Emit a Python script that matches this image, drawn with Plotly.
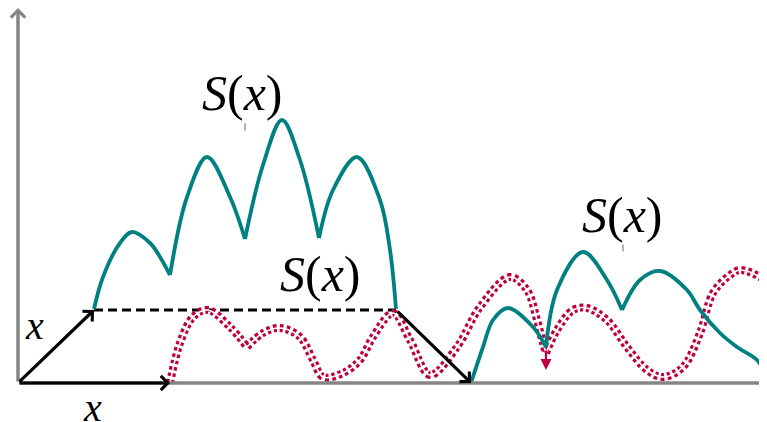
import plotly.graph_objects as go

# ---- data (units: 1 unit = 10 px, origin at the axes corner) ----
teal_left_x = [7.6, 8.5, 10.2, 11.4, 13.2, 14.2, 15.2, None,
               15.2, 16.9, 18.9, 21.2, 22.7, None,
               22.7, 24.5, 26.4, 28.2, 30.1, None,
               30.1, 31.5, 33.9, 36.2, 37.2, 37.8]
teal_left_y = [7.4, 10.6, 14.0, 15.1, 14.0, 12.6, 10.8, None,
               10.8, 18.6, 22.6, 18.6, 14.4, None,
               14.4, 21.8, 26.3, 22.3, 14.5, None,
               14.5, 19.3, 22.6, 18.3, 13.3, 7.4]

teal_right_x = [45.3, 46.5, 47.5, 49.0, 51.5, 52.8, None,
                52.8, 53.9, 56.5, 58.9, 60.4, None,
                60.4, 62.2, 64.2, 66.9, 68.2, 70.2, 71.9, 73.9, 74.9]
teal_right_y = [0.0, 3.6, 6.3, 7.5, 5.6, 3.6, None,
                3.6, 9.3, 13.1, 10.3, 7.3, None,
                7.3, 10.3, 11.2, 9.3, 7.3, 5.0, 3.6, 2.3, 0.6]

crimson_x = [15.2, 16.2, 17.5, 19.0, 21.2, 22.9, None,
             22.9, 24.5, 26.2, 28.2, 29.5, 30.5, 32.5, 34.2, 35.5, 37.5, 39.2, 41.2,
             43.9, 46.2, 49.2, 50.9, 51.9, 52.5, 52.8, None,
             52.8, 53.9, 55.5, 56.9, 58.9, 60.9, 62.9, 64.5, 66.5, 68.2, 69.5,
             71.2, 72.2, 74.2, 75.5]
crimson_y = [0.0, 4.0, 6.6, 7.3, 5.6, 3.6, None,
             3.6, 5.0, 5.5, 4.6, 2.3, 0.6, 1.0, 2.3, 4.6, 7.0, 4.3, 0.8,
             3.6, 7.6, 10.6, 9.3, 6.3, 4.0, 3.0, None,
             3.0, 5.3, 7.3, 7.5, 6.3, 3.6, 1.3, 0.6, 1.6, 5.0, 9.0,
             10.8, 11.3, 10.6, 9.5]

dashed_x = [7.6, 37.8]
dashed_y = [7.3, 7.3]

# vector arrows: tail -> head
arrow_tail_x = [0.0, 0.0, 37.8]
arrow_tail_y = [0.0, 0.0, 7.3]
arrow_head_x = [7.6, 15.2, 45.3]
arrow_head_y = [7.3, 0.0, 0.0]

# axes arrows
axis_tail_x = [0.0, 0.0]
axis_tail_y = [0.0, 0.0]
axis_head_x = [0.0, 75.2]
axis_head_y = [37.5, 0.0]

# small crimson arrow tip
tip_tail = (52.8, 3.4)
tip_head = (52.8, 1.3)

label_text = ["<i>S</i>(<i>x</i>)", "<i>S</i>(<i>x</i>)", "<i>S</i>(<i>x</i>)", "<i>x</i>", "<i>x</i>"]
label_x = [22.4, 30.2, 60.4, 1.6, 7.4]
label_y = [29.0, 10.9, 16.8, 5.8, -2.4]

tick_x = [22.7, 60.5]
tick_y = [25.6, 13.5]

TEAL = "#008080"
CRIMSON = "#BF0040"
GRAY = "#858585"

fig = go.Figure()

# dashed black line
fig.add_trace(go.Scatter(x=dashed_x, y=dashed_y, mode="lines",
                         line=dict(color="black", width=3, dash="9px,5px"),
                         hoverinfo="skip"))

# crimson double-dotted curve
fig.add_trace(go.Scatter(x=crimson_x, y=crimson_y, mode="lines",
                         line=dict(color=CRIMSON, width=8, dash="3.5px,3px", shape="spline", smoothing=1.0),
                         connectgaps=False, hoverinfo="skip"))
fig.add_trace(go.Scatter(x=crimson_x, y=crimson_y, mode="lines",
                         line=dict(color="white", width=1.6, shape="spline", smoothing=1.0),
                         connectgaps=False, hoverinfo="skip"))

# teal curves
for xs, ys in ((teal_left_x, teal_left_y), (teal_right_x, teal_right_y)):
    fig.add_trace(go.Scatter(x=xs, y=ys, mode="lines",
                             line=dict(color=TEAL, width=3.8, shape="spline", smoothing=1.0),
                             connectgaps=False, hoverinfo="skip"))

# tick marks under labels
fig.add_trace(go.Scatter(x=tick_x, y=tick_y, mode="markers",
                         marker=dict(symbol="line-ns", size=5, line=dict(color="#666666", width=1)),
                         hoverinfo="skip"))

annotations = []
for tx, ty, hx, hy in zip(axis_tail_x, axis_tail_y, axis_head_x, axis_head_y):
    annotations.append(dict(x=hx, y=hy, ax=tx, ay=ty, xref="x", yref="y", axref="x", ayref="y",
                            text="", showarrow=True, arrowhead=4, arrowsize=0.8, arrowwidth=3.5,
                            arrowcolor=GRAY, standoff=0, startstandoff=0))
for tx, ty, hx, hy in zip(arrow_tail_x, arrow_tail_y, arrow_head_x, arrow_head_y):
    annotations.append(dict(x=hx, y=hy, ax=tx, ay=ty, xref="x", yref="y", axref="x", ayref="y",
                            text="", showarrow=True, arrowhead=4, arrowsize=0.85, arrowwidth=3.2,
                            arrowcolor="black", standoff=0, startstandoff=0))
annotations.append(dict(x=tip_head[0], y=tip_head[1], ax=tip_tail[0], ay=tip_tail[1],
                        xref="x", yref="y", axref="x", ayref="y",
                        text="", showarrow=True, arrowhead=2, arrowsize=1, arrowwidth=2.2,
                        arrowcolor=CRIMSON, standoff=0, startstandoff=0))
for t, lx, ly in zip(label_text, label_x, label_y):
    annotations.append(dict(x=lx, y=ly, xref="x", yref="y", text=t, showarrow=False,
                            font=dict(family="Liberation Serif", size=50 if "S" in t else 40, color="black"),
                            xanchor="center", yanchor="middle"))

# page body has an 8px margin: figure is 759x414 and ranges are set so the
# axes corner lands at page pixel (18, 383)
fig.update_layout(
    width=759, height=414,
    margin=dict(l=0, r=0, t=0, b=0),
    paper_bgcolor="white", plot_bgcolor="white",
    showlegend=False,
    xaxis=dict(range=[-1.0, 74.9], visible=False, fixedrange=True),
    yaxis=dict(range=[-3.9, 37.5], visible=False, fixedrange=True),
    annotations=annotations,
)

fig.write_html("out.html")
